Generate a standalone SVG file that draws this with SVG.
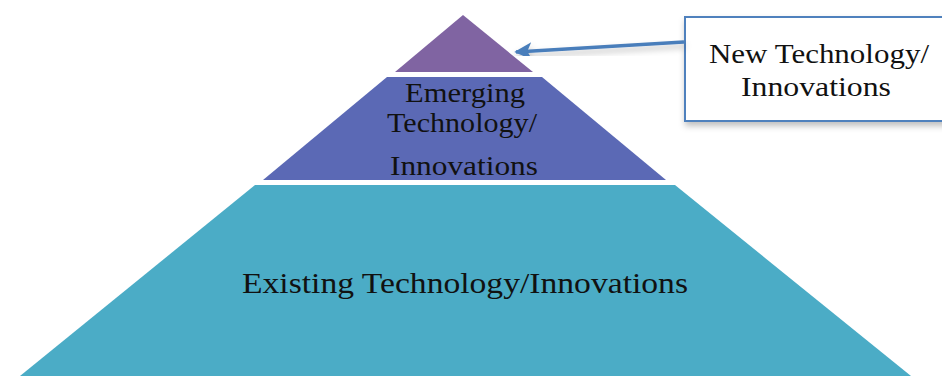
<svg xmlns="http://www.w3.org/2000/svg" width="942" height="376" viewBox="0 0 942 376">
<style>
.t{font-family:"Liberation Serif","Times New Roman",serif;fill:#111;lengthAdjust:spacingAndGlyphs}
</style>
<defs>
<filter id="sh" x="-10%" y="-20%" width="130%" height="160%">
<feDropShadow dx="1" dy="4" stdDeviation="3" flood-color="#000" flood-opacity="0.25"/>
</filter>
<marker id="ah" viewBox="0 0 10 10" refX="9" refY="5" markerWidth="5" markerHeight="5" orient="auto" markerUnits="strokeWidth">
<path d="M0,0 L10,5 L0,10 L2.5,5 Z" fill="#4a7ebb"/>
</marker>
</defs>
<rect width="942" height="376" fill="#fff"/>
<g id="tier-existing">
<polygon points="255,185 675,185 911,376 20,376" fill="#4bacc6"/>
<text class="t" x="465" y="293" font-size="30" text-anchor="middle" textLength="446" lengthAdjust="spacingAndGlyphs">Existing Technology/Innovations</text>
</g>
<g id="tier-emerging">
<polygon points="387,77 542,77 666,180 263,180" fill="#5b69b5"/>
<text class="t" x="465" y="102" font-size="27" text-anchor="middle" textLength="120" lengthAdjust="spacingAndGlyphs">Emerging</text>
<text class="t" x="462" y="132" font-size="27" text-anchor="middle" textLength="150" lengthAdjust="spacingAndGlyphs">Technology/</text>
<text class="t" x="464" y="175" font-size="27" text-anchor="middle" textLength="148" lengthAdjust="spacingAndGlyphs">Innovations</text>
</g>
<g id="tier-new">
<polygon points="463,15 533,72 395,72" fill="#8064a2"/>
</g>
<g id="callout">
<rect x="685" y="17" width="280" height="104" fill="#fff" stroke="#4f81bd" stroke-width="2" filter="url(#sh)"/>
<text class="t" x="819" y="63" font-size="28" text-anchor="middle" textLength="220" lengthAdjust="spacingAndGlyphs">New Technology/</text>
<text class="t" x="816" y="96" font-size="28" text-anchor="middle" textLength="150" lengthAdjust="spacingAndGlyphs">Innovations</text>
</g>
<g id="connectors">
<line x1="684" y1="42" x2="516" y2="52" stroke="#4a7ebb" stroke-width="3.5" marker-end="url(#ah)" filter="url(#sh)"/>
</g>
</svg>
